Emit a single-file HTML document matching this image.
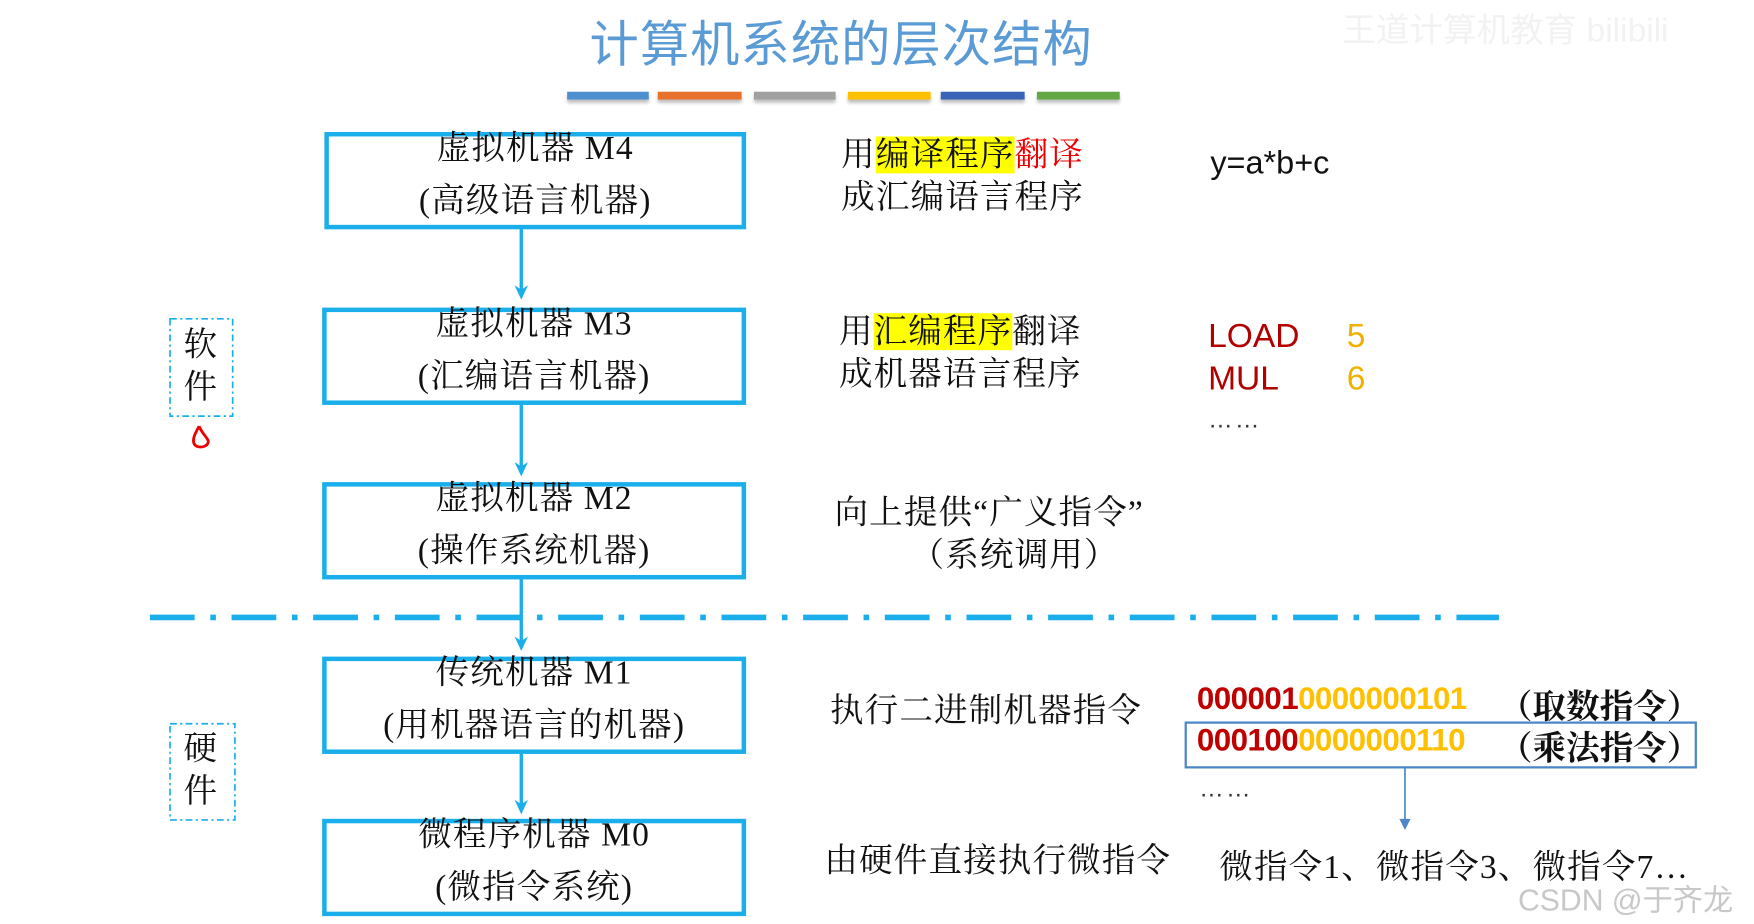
<!DOCTYPE html>
<html><head><meta charset="utf-8"><style>
html,body{margin:0;padding:0;background:#fff;width:1754px;height:924px;overflow:hidden}
#c{position:absolute;left:0;top:0;width:1568px;height:826px;transform:scale(1.1186);transform-origin:0 0}
.a{position:absolute;white-space:nowrap}
.s{font-family:"Liberation Serif","Noto Serif CJK SC",serif}
.ss{font-family:"Liberation Sans","Noto Sans CJK SC",sans-serif}
.box{position:absolute;border:4px solid #1aaeea;box-sizing:border-box;text-align:center;font-family:"Liberation Serif","Noto Serif CJK SC",serif;font-size:30px;line-height:47px;color:#111;letter-spacing:1px}
.box div{margin-top:-13px}
.bar{position:absolute;top:82px;height:7px;box-shadow:0 3px 3px rgba(0,0,0,.25)}
.t{font-size:30px;color:#111;letter-spacing:1px}
.hl{background:#ffff00}
</style></head><body><div id="c">
<div class="a ss" style="left:527px;top:4px;font-size:44px;color:#5b9bd5;letter-spacing:1px">计算机系统的层次结构</div>
<div class="a ss" style="left:1200px;top:2px;font-size:30px;color:#f2f2f2">王道计算机教育 bilibili</div>
<div class="bar" style="left:507px;width:73px;background:#4e8fcf"></div>
<div class="bar" style="left:588px;width:75px;background:#e8712b"></div>
<div class="bar" style="left:674px;width:73px;background:#a0a0a0"></div>
<div class="bar" style="left:758px;width:74px;background:#ffc000"></div>
<div class="bar" style="left:841px;width:75px;background:#3a63b8"></div>
<div class="bar" style="left:927px;width:74px;background:#63a844"></div>

<svg class="a" style="left:0;top:0" width="1568" height="826">
<g stroke="#1aaeea" stroke-width="3">
<line x1="466" y1="204" x2="466" y2="262"/>
<line x1="466" y1="361" x2="466" y2="420"/>
<line x1="466" y1="517" x2="466" y2="576"/>
<line x1="466" y1="673" x2="466" y2="722"/>
</g>
<g fill="#1aaeea">
<path d="M460,255 L466,268 L472,255 L466,259Z"/>
<path d="M460,413 L466,426 L472,413 L466,417Z"/>
<path d="M460,569 L466,582 L472,569 L466,573Z"/>
<path d="M460,715 L466,728 L472,715 L466,719Z"/>
</g>
<line x1="134" y1="552" x2="1340" y2="552" stroke="#1aaeea" stroke-width="5" stroke-dasharray="40,14,5,14"/>
<line x1="1256" y1="686" x2="1256" y2="734" stroke="#4a86c8" stroke-width="1.5"/>
<path d="M1251,732 L1256,742 L1261,732Z" fill="#4a86c8"/>
<rect x="152" y="285" width="56" height="87" fill="none" stroke="#1aaeea" stroke-width="1.5" stroke-dasharray="6,3,2,3"/>
<rect x="152" y="647" width="58" height="86" fill="none" stroke="#1aaeea" stroke-width="1.5" stroke-dasharray="6,3,2,3"/>
<path d="M178,381 C174,388 170,396 176,399 C182,401 189,397 185,392 C183,389 180,386 178,381" fill="none" stroke="#e00" stroke-width="2.5"/>
<rect x="1060" y="646" width="456" height="40" fill="none" stroke="#4a86c8" stroke-width="2"/>
</svg>

<div class="box" style="left:290px;top:118px;width:377px;height:87px"><div>虚拟机器 M4<br>(高级语言机器)</div></div>
<div class="box" style="left:288px;top:275px;width:379px;height:87px"><div>虚拟机器 M3<br>(汇编语言机器)</div></div>
<div class="box" style="left:288px;top:431px;width:379px;height:87px"><div>虚拟机器 M2<br>(操作系统机器)</div></div>
<div class="box" style="left:288px;top:587px;width:379px;height:87px"><div>传统机器 M1<br>(用机器语言的机器)</div></div>
<div class="box" style="left:288px;top:732px;width:379px;height:87px"><div>微程序机器 M0<br>(微指令系统)</div></div>

<div class="a s t" style="left:164px;top:290px;line-height:38px">软<br>件</div>
<div class="a s t" style="left:164px;top:651px;line-height:38px">硬<br>件</div>

<div class="a s t" style="left:752px;top:120px;line-height:38px">用<span class="hl">编译程序</span><span style="color:#e00">翻译</span><br>成汇编语言程序</div>
<div class="a s t" style="left:750px;top:278px;line-height:38px">用<span class="hl">汇编程序</span>翻译<br>成机器语言程序</div>
<div class="a s t" style="left:746px;top:440px;line-height:38px">向上提供“广义指令”<br><span style="padding-left:68px">（系统调用）</span></div>
<div class="a s t" style="left:742px;top:610px">执行二进制机器指令</div>
<div class="a s t" style="left:737px;top:744px">由硬件直接执行微指令</div>

<div class="a ss" style="left:1082px;top:130px;font-size:29px;color:#111">y=a*b+c</div>
<div class="a ss" style="left:1080px;top:282px;font-size:30px;line-height:38px;color:#b00000">LOAD<br>MUL</div>
<div class="a ss" style="left:1204px;top:282px;font-size:30px;line-height:38px;color:#f0b000">5<br>6</div>
<div class="a ss" style="left:1080px;top:362px;font-size:22px;color:#333;letter-spacing:2px">……</div>

<div class="a ss" style="left:1070px;top:609px;font-size:28px;font-weight:bold;color:#c00000;letter-spacing:-0.5px">000001<span style="color:#ffc000">0000000101</span></div>
<div class="a s t" style="left:1340px;top:607px;font-weight:bold;letter-spacing:0">（取数指令）</div>
<div class="a ss" style="left:1070px;top:646px;font-size:28px;font-weight:bold;color:#c00000;letter-spacing:-0.5px">000100<span style="color:#ffc000">0000000110</span></div>
<div class="a s t" style="left:1340px;top:644px;font-weight:bold;letter-spacing:0">（乘法指令）</div>
<div class="a ss" style="left:1072px;top:692px;font-size:22px;color:#333;letter-spacing:2px">……</div>
<div class="a s t" style="left:1090px;top:750px">微指令1、微指令3、微指令7…</div>
<div class="a ss" style="left:1357px;top:783px;font-size:27px;color:#c8c8c8">CSDN @于齐龙</div>
</div></body></html>
